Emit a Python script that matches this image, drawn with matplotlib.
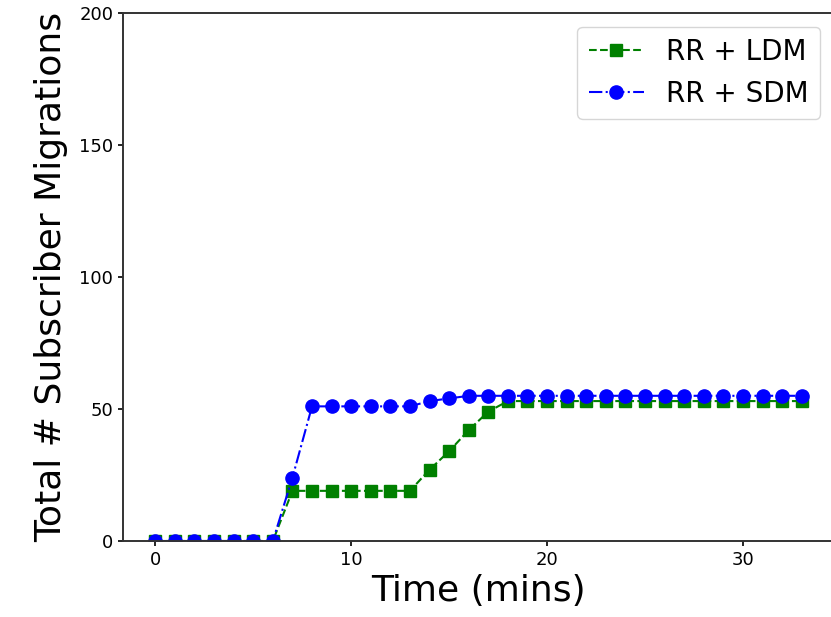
import matplotlib
matplotlib.use("Agg")
import matplotlib.pyplot as plt

minutes = list(range(0, 34))
ldm = [0] * 7 + [19] * 7 + [27, 34, 42, 49] + [53] * 16
sdm = [0] * 7 + [24] + [51] * 6 + [53, 54] + [55] * 18


def main():
    fig = plt.figure(figsize=(8.31, 6.17), dpi=100)
    ax = fig.add_axes([123 / 831, 76 / 617, 711 / 831, 528 / 617])

    ax.plot(minutes, ldm, "g--s", markersize=8.5, linewidth=1.5, label="RR + LDM")
    ax.plot(minutes, sdm, "b-.o", markersize=9.5, linewidth=1.5, label="RR + SDM")

    ax.set_ylim(0, 200)
    ax.set_yticks([0, 50, 100, 150, 200])
    ax.set_xticks([0, 10, 20, 30])
    ax.tick_params(labelsize=13, width=1.2)
    for s in ax.spines.values():
        s.set_linewidth(1.4)
        s.set_color("#333333")
    ax.set_xlabel("Time (mins)", fontsize=26)
    ax.set_ylabel("Total # Subscriber Migrations", fontsize=26, labelpad=8)
    ax.legend(fontsize=20, loc="upper right")

    fig.savefig("out.png", dpi=100)


if __name__ == "__main__":
    main()
